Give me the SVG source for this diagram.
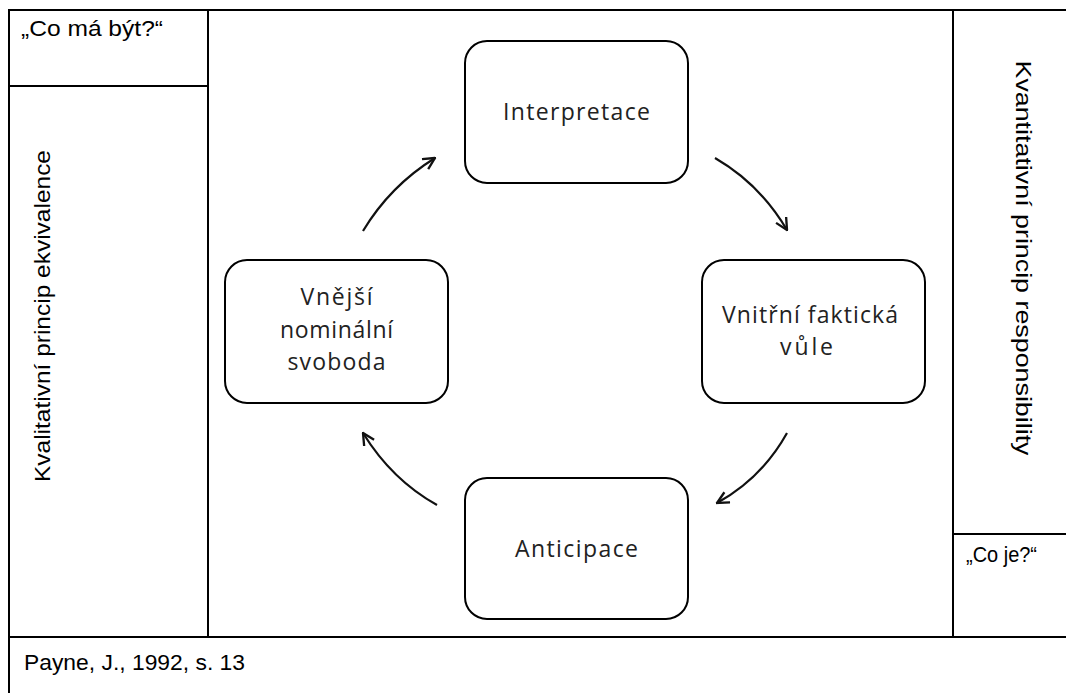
<svg xmlns="http://www.w3.org/2000/svg" width="1066" height="693" viewBox="0 0 1066 693">
<style>
.grid{stroke:#000;stroke-width:2;fill:none}
.box{fill:#fff;stroke:#000;stroke-width:2}
.bt{font-family:"Open Sans","Noto Sans",sans-serif;font-size:23px;fill:#222;text-anchor:middle}
.tt{font-family:"Liberation Sans",Arial,sans-serif;font-size:22px;fill:#000}
.arr{fill:none;stroke:#111;stroke-width:2.2;marker-end:url(#ah)}
</style>
<defs>
<marker id="ah" viewBox="0 0 12 12" refX="11" refY="6" markerWidth="14" markerHeight="14" markerUnits="userSpaceOnUse" orient="auto">
<path d="M1,1 L11,6 L1,11" fill="none" stroke="#111" stroke-width="2"/>
</marker>
</defs>
<rect width="1066" height="693" fill="#fff"/>
<g id="table">
<path class="grid" d="M9,693 V10 H1066 M208,10 V637 M953,10 V637 M9,86 H208 M953,534 H1066 M9,637 H1066"/>
<text class="tt" x="21" y="36" textLength="142" lengthAdjust="spacingAndGlyphs">„Co má být?“</text>
<text class="tt" x="966" y="562" textLength="71" lengthAdjust="spacingAndGlyphs">„Co je?“</text>
<text class="tt" x="24" y="670" textLength="221" lengthAdjust="spacingAndGlyphs">Payne, J., 1992, s. 13</text>
<text class="tt" transform="translate(50,316) rotate(-90)" text-anchor="middle" textLength="332" lengthAdjust="spacingAndGlyphs">Kvalitativní princip ekvivalence</text>
<text class="tt" transform="translate(1016,258) rotate(90)" text-anchor="middle" textLength="395" lengthAdjust="spacingAndGlyphs">Kvantitativní princip responsibility</text>
</g>
<g id="connectors">
<path class="arr" d="M363,231 Q390,186 435,158"/>
<path class="arr" d="M715,158 Q760,184 787,230"/>
<path class="arr" d="M787,433 Q762,478 717,503"/>
<path class="arr" d="M437,505 Q392,480 363,433"/>
</g>
<g id="n-interpretace">
<rect class="box" x="465" y="41" width="223" height="142" rx="22"/>
<text class="bt" x="576.5" y="120" textLength="147">Interpretace</text>
</g>
<g id="n-vnejsi">
<rect class="box" x="225" y="260" width="223" height="143" rx="22"/>
<text class="bt" x="336.5" y="305" textLength="72">Vnější</text>
<text class="bt" x="336.5" y="338" textLength="113">nominální</text>
<text class="bt" x="336.5" y="370" textLength="98">svoboda</text>
</g>
<g id="n-vnitrni">
<rect class="box" x="702" y="260" width="223" height="143" rx="22"/>
<text class="bt" x="810" y="323" textLength="176">Vnitřní faktická</text>
<text class="bt" x="806.5" y="355" textLength="53">vůle</text>
</g>
<g id="n-anticipace">
<rect class="box" x="465" y="478" width="223" height="141" rx="22"/>
<text class="bt" x="576.5" y="557" textLength="123">Anticipace</text>
</g>
</svg>
